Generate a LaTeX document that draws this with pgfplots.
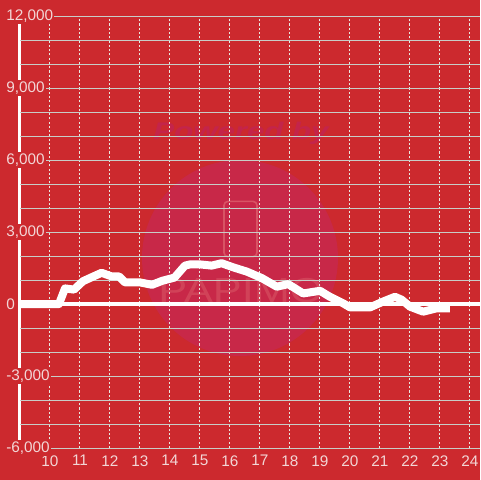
\documentclass[border=0pt]{standalone}
\usepackage{pgfplots}
\pgfplotsset{compat=1.18}
\usepackage{fontspec}
\setmainfont{Liberation Sans}
\definecolor{bgred}{RGB}{204,41,46}
\definecolor{wmcircle}{RGB}{200,40,72}
\definecolor{wmtext}{RGB}{196,36,74}
\definecolor{wmline}{RGB}{216,84,100}
\definecolor{gridgray}{RGB}{200,205,200}
\definecolor{dashgray}{RGB}{232,232,226}
\definecolor{lbl}{RGB}{242,214,214}
\begin{document}
\begin{tikzpicture}
\fill[bgred] (0,0) rectangle (360pt,360pt);
% watermark
\fill[wmcircle] (180pt,166.5pt) circle (73.5pt);
\node[wmtext, font=\fontsize{18}{20}\selectfont\bfseries\itshape, xscale=1.3, transform shape] at (180.75pt,260pt) {Powered by};
\draw[wmline, line width=1.2pt, rounded corners=3pt] (168pt,167.5pt) rectangle (192.75pt,209pt);
\node[wmline, opacity=0.6, font=\fontsize{26}{28}\selectfont, xscale=1.25, transform shape] at (180.75pt,142pt) {PAPIMO};
% y axis line
\draw[white, line width=2.25pt] (15pt,24pt) -- (15pt,348pt);
\begin{axis}[
  at={(15pt,24pt)}, anchor=south west,
  scale only axis, width=345pt, height=324pt,
  xmin=9, xmax=24.3333, ymin=-6000, ymax=12000,
  axis line style={draw=none},
  xtick={10,...,24},
  ytick={-6000,-3000,0,3000,6000,9000,12000},
  minor ytick={-5000,-4000,-2000,-1000,1000,2000,4000,5000,7000,8000,10000,11000},
  scaled y ticks=false,
  major tick length=0pt, minor tick length=0pt,
  tick style={draw=none},
  xtick pos=bottom, ytick pos=left,
  xmajorgrids, ymajorgrids, yminorgrids,
  x grid style={dashgray, line width=0.75pt, dash pattern=on 1.6pt off 1.6pt},
  y grid style={gridgray, line width=0.75pt},
  /pgf/number format/assume math mode=true,
  /pgf/number format/1000 sep={,},
  ticklabel style={font=\fontsize{11.5}{13}\selectfont, text=lbl},
  yticklabel style={anchor=west, xshift=-11.5pt, fill=bgred, inner sep=1pt},
  xticklabel style={yshift=-2pt},
  clip=false,
]
\addplot[white, line width=2.6pt] coordinates {(9,0) (24.3333,0)};
\addplot[white, line width=6pt, line join=round, line cap=butt] coordinates {
(9,0) (10.3,0) (10.5,650) (10.8,600) (11.1,950) (11.45,1150) (11.72,1300)
(12.05,1150) (12.3,1150) (12.5,900) (13.0,900) (13.4,800) (13.75,970)
(14.15,1100) (14.5,1600) (14.67,1650) (15.0,1650) (15.39,1600) (15.72,1700)
(16.1,1530) (16.56,1350) (17.06,1080) (17.56,720) (17.94,830) (18.44,440)
(19.0,550) (19.33,300) (19.77,30) (20.0,-140) (20.67,-140) (21.1,100)
(21.5,300) (21.72,180) (22.0,-110) (22.44,-320) (22.89,-180) (23.33,-180)
};
\end{axis}
\pgfresetboundingbox
\path[use as bounding box] (0,0) rectangle (360pt,360pt);
\end{tikzpicture}
\end{document}
